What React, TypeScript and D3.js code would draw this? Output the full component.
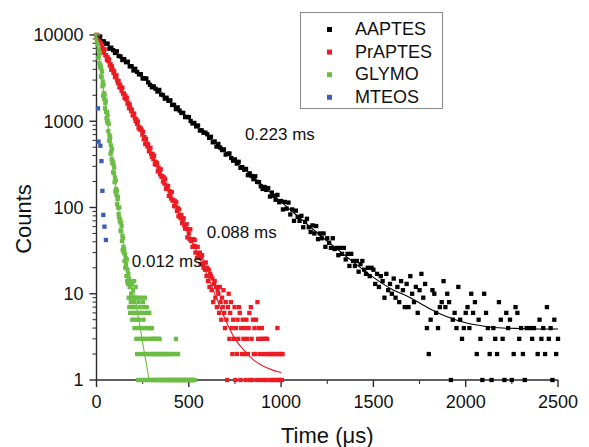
import React from 'react';
import * as d3 from 'd3';

const xTicks = [0, 500, 1000, 1500, 2000, 2500];
const xMinorTicks = [250, 750, 1250, 1750, 2250];
const yTicks = [1, 10, 100, 1000, 10000];
const xTitle = 'Time (μs)';
const yTitle = 'Counts';

const seriesNames = ['AAPTES', 'PrAPTES', 'GLYMO', 'MTEOS'];
const seriesColors = ['#000000', '#ec1c24', '#6cbd45', '#3c5bb5'];

// AAPTES: one value every 10 µs from 0
const aaptesStep = 10;
const aaptesCounts = [
  10000, 9371, 9599, 8391, 8442, 7912, 7947, 6941, 7126, 6680,
  6195, 6473, 5722, 5639, 5124, 5257, 4832, 4900, 4328, 4351,
  3875, 4056, 3729, 3495, 3512, 3130, 3148, 3129, 2822, 2643,
  2476, 2541, 2382, 2210, 2309, 2040, 2011, 1828, 1875, 1724,
  1747, 1543, 1552, 1382, 1447, 1330, 1247, 1252, 1116, 1123,
  1116, 1007, 943, 957, 871, 893, 780, 785, 736, 738,
  706, 643, 661, 570, 583, 508, 546, 496, 463, 472,
  411, 420, 423, 375, 349, 361, 323, 339, 288, 294,
  274, 280, 237, 249, 232, 213, 230, 198, 197, 176,
  164, 173, 160, 168, 134, 149, 137, 123, 140, 115,
  119, 95, 116, 97, 114, 83, 95, 70, 92, 78,
  70, 80, 59, 68, 74, 59, 52, 62, 50, 61,
  43, 50, 44, 50, 35, 44, 39, 34, 44, 33,
  34, 28, 34, 29, 34, 25, 29, 21, 29, 24,
  21, 24, 18, 22, 24, 19, 17, 20, 16, 20,
  19, 13, 17, 12, 16, 14, 9, 17, 11, 13,
  10, 15, 9, 12, 8, 14, 11, 7, 13, 7,
  16, 10, 8, 12, 6, 11, 17, 9, 13, 4,
  2, 5, 11, 10, 6, 4, 7, 8, 14, 7,
  10, 8, 1, 5, 6, 4, 12, 5, 3, 4,
  6, 7, 4, 10, 6, 8, 2, 5, 3, 1,
  10, 6, 4, 2, 1, 4, 3, 2, 8, 5,
  3, 1, 6, 4, 5, 1, 2, 7, 6, 3,
  4, 2, 1, 4, 0, 4, 3, 4, 0, 2,
  5, 3, 4, 2, 7, 3, 4, 1, 5, 2, 3,
];

// PrAPTES: one value every 4 µs from 0
const prStep = 4;
const prCounts = [
  10000, 9296, 9873, 8273, 8561,
  7962, 8211, 6866, 7327, 6817,
  6240, 6824, 5820, 5836, 5180,
  5519, 4985, 5214, 4439, 4588,
  3949, 4336, 3920, 3644, 3762,
  3244, 3357, 3407, 2991, 2779,
  2915, 2473, 2638, 2455, 2246,
  2458, 2096, 2102, 1865, 1988,
  1796, 1878, 1599, 1652, 1422,
  1561, 1412, 1312, 1355, 1168,
  1209, 1227, 1078, 1001, 1049,
  934, 991, 831, 860, 800,
  825, 791, 700, 754, 617,
  654, 543, 624, 554, 509,
  538, 448, 476, 492, 420,
  386, 418, 362, 398, 318,
  339, 312, 329, 263, 291,
  269, 242, 277, 227, 231,
  200, 224, 189, 215, 165,
  180, 164, 177, 136, 155,
  143, 127, 151, 120, 123,
  104, 119, 103, 115, 91,
  99, 79, 95, 82, 75,
  82, 66, 72, 75, 62,
  57, 57, 64, 45, 56,
  50, 43, 56, 41, 43,
  35, 43, 36, 42, 30,
  35, 26, 35, 29, 26,
  30, 22, 26, 28, 22,
  20, 23, 19, 23, 16,
  20, 14, 19, 12, 17,
  16, 11, 15, 8, 13,
  14, 9, 12, 7, 11,
  10, 6, 12, 8, 5,
  9, 7, 11, 6, 4,
  8, 5, 1, 7, 10,
  3, 6, 8, 4, 2,
  5, 3, 7, 1, 4,
  2, 5, 3, 7, 6,
  1, 4, 2, 5, 3,
  2, 4, 1, 5, 3,
  2, 4, 6, 1, 7,
  3, 1, 5, 2, 4,
  2, 5, 1, 8, 3,
  4, 2, 1, 3, 4,
  2, 3, 1, 2, 3,
  1, 3, 2, 0, 2,
  1, 2, 0, 1, 2,
  2, 1, 2, 0, 1,
  4, 2, 1, 2, 1,
  2, 1, 2,
];

// GLYMO: one value every 2 µs from 0
const glyStep = 2;
const glyCounts = [
  10000, 8514, 8735, 7767, 7921,
  5428, 6781, 5811, 4732, 6170,
  4236, 4431, 3312, 4087, 3242,
  3749, 2544, 2889, 1981, 2658,
  2120, 1805, 2034, 1411, 1617,
  1726, 1278, 1084, 1277, 971,
  1171, 1011, 769, 929, 601,
  688, 588, 658, 420, 525,
  449, 366, 477, 328, 342,
  256, 316, 251, 290, 197,
  224, 154, 205, 164, 140,
  157, 109, 125, 133, 99,
  84, 77, 100, 69, 73,
  54, 67, 53, 61, 41,
  47, 32, 44, 35, 30,
  33, 24, 29, 20, 26,
  22, 16, 25, 14, 19,
  13, 17, 9, 15, 7,
  12, 6, 14, 8, 10,
  9, 13, 5, 7, 11,
  6, 8, 14, 4, 9,
  7, 12, 5, 3, 6,
  2, 9, 4, 1, 8,
  5, 3, 7, 2, 6,
  9, 1, 4, 6, 3,
  2, 8, 5, 1, 7,
  4, 9, 3, 2, 6,
  1, 7, 4, 2, 6,
  3, 1, 4, 6, 2,
  1, 3, 4, 2, 0,
  4, 1, 3, 2, 1,
  2, 3, 0, 1, 2,
  3, 1, 2, 0, 1,
  2, 3, 1, 0, 2,
  1, 3, 0, 2, 1,
  0, 2, 1, 0, 1,
  2, 0, 1, 2, 0,
  1, 2, 0, 1, 0,
  2, 1, 0, 2, 1,
  0, 1, 2, 0, 1,
  1, 0, 2, 1, 0,
  2, 1, 0, 0, 1,
  0, 2, 1, 0, 1,
  3, 0, 1, 2, 0,
  1, 2, 0, 1, 0,
  1, 0, 0, 1, 0,
  0, 1, 0, 0, 1,
  1, 0, 0, 1, 0,
  0, 1, 0, 1, 0,
  1, 0, 0, 1, 0,
  0, 1, 0, 0, 1,
  0, 1, 0, 0, 1,
  1, 0, 0, 1, 0,
  0, 1, 0, 0, 0,
  0,
];

// MTEOS: the few visible points
const mteosTimes = [8, 11, 21, 27, 32, 37, 43, 51];
const mteosCounts = [1410, 580, 520, 345, 156, 82, 60, 42];

// Fitted curves
const aaptesFitTimes = [0, 100, 200, 300, 400, 500, 600, 700, 800, 900, 1000, 1100, 1200, 1300, 1400, 1500, 1600, 1700, 1800, 1900, 2000, 2100, 2200, 2300, 2400, 2500];
const aaptesFit = [10000, 6388, 4080, 2606, 1665, 1065, 681, 436, 280, 180, 116, 76, 50, 33.3, 22.5, 15.5, 11.3, 9.0, 6.8, 5.4, 4.6, 4.2, 4.0, 3.95, 3.9, 3.9];
const prFitTimes = [0, 50, 100, 150, 200, 250, 300, 350, 400, 450, 500, 550, 600, 650, 700, 750, 800, 850, 900, 950, 1000];
const prFit = [10000, 5880, 3450, 2030, 1190, 700, 412, 242, 142, 84, 49, 28.5, 16.5, 8.9, 4.9, 3.0, 2.2, 1.71, 1.46, 1.31, 1.22];
const glyFitTimes = [0, 40, 80, 120, 160, 180, 200, 215, 230, 250, 270, 285];
const glyFit = [10000, 2100, 440, 95, 26, 16, 11, 7.6, 4.9, 2.7, 1.55, 1.0];

const annotationTexts = ['0.223 ms', '0.088 ms', '0.012 ms'];
const annotationTimes = [804, 597, 191];
const annotationCounts = [604, 44.8, 20.4];

const FONT = '"Liberation Sans", Arial, Helvetica, sans-serif';

export default function App() {
  const W = 589;
  const H = 447;
  const x = d3.scaleLinear().domain([0, 2500]).range([96.5, 558]);
  const y = d3.scaleLog().domain([1, 10000]).range([380, 35]);

  const mk = (step: number, counts: number[]) =>
    counts.map((c, i) => ({ t: i * step, c })).filter((d) => d.c >= 1);

  const dataSets = [
    mk(aaptesStep, aaptesCounts),
    mk(prStep, prCounts),
    mk(glyStep, glyCounts),
    mteosTimes.map((t, i) => ({ t, c: mteosCounts[i] })),
  ];

  const fits = [
    { times: aaptesFitTimes, vals: aaptesFit, color: seriesColors[0] },
    { times: prFitTimes, vals: prFit, color: seriesColors[1] },
    { times: glyFitTimes, vals: glyFit, color: seriesColors[2] },
  ];

  const line = d3
    .line<[number, number]>()
    .x((d) => x(d[0]))
    .y((d) => y(d[1]))
    .curve(d3.curveMonotoneX);

  const yMinor = y.ticks().filter((v) => !yTicks.includes(v));
  const ms = 4.3;
  const axisColor = '#2a2a2a';
  const [x0, x1] = x.range();
  const [yb, yt] = y.range();

  return (
    <svg
      width={W}
      height={H}
      viewBox={`0 0 ${W} ${H}`}
      style={{ position: 'absolute', left: 0, top: 0, background: '#fff' }}
      fontFamily={FONT}
    >
      <rect x={0} y={0} width={W} height={H} fill="#fff" />

      {/* axes */}
      <g stroke={axisColor} strokeWidth={1.4}>
        <line x1={x0} x2={x0} y1={yb} y2={yt} />
        <line x1={x0} x2={x1} y1={yb} y2={yb} />
        {yTicks.map((v) => (
          <line key={'ym' + v} x1={x0 - 7} x2={x0} y1={y(v)} y2={y(v)} />
        ))}
        {yMinor.map((v) => (
          <line key={'yn' + v} x1={x0 - 4} x2={x0} y1={y(v)} y2={y(v)} strokeWidth={1} />
        ))}
        {xTicks.map((v) => (
          <line key={'xm' + v} x1={x(v)} x2={x(v)} y1={yb} y2={yb + 7} />
        ))}
        {xMinorTicks.map((v) => (
          <line key={'xn' + v} x1={x(v)} x2={x(v)} y1={yb} y2={yb + 4} strokeWidth={1} />
        ))}
      </g>
      <g fontSize={18} fill="#111">
        {yTicks.map((v) => (
          <text key={'yl' + v} x={x0 - 13} y={y(v)} dy="0.36em" textAnchor="end">
            {String(v)}
          </text>
        ))}
        {xTicks.map((v) => (
          <text key={'xl' + v} x={x(v)} y={yb + 28} textAnchor="middle">
            {String(v)}
          </text>
        ))}
      </g>
      <text x={(x0 + x1) / 2} y={443} fontSize={22} textAnchor="middle" fill="#111">
        {xTitle}
      </text>
      <text
        transform={`translate(31, 219) rotate(-90)`}
        fontSize={22}
        textAnchor="middle"
        fill="#111"
      >
        {yTitle}
      </text>

      {/* data points */}
      {dataSets.map((pts, si) => (
        <g key={'s' + si} fill={seriesColors[si]}>
          {pts.map((d, i) => (
            <rect key={i} x={x(d.t) - ms / 2} y={y(d.c) - ms / 2} width={ms} height={ms} />
          ))}
        </g>
      ))}

      {/* fits */}
      {fits.map((f, i) => (
        <path
          key={'f' + i}
          d={line(f.times.map((t, k) => [t, f.vals[k]] as [number, number])) || ''}
          fill="none"
          stroke={f.color}
          strokeWidth={1.1}
        />
      ))}

      {/* annotations */}
      {annotationTexts.map((s, i) => (
        <text key={'a' + i} x={x(annotationTimes[i])} y={y(annotationCounts[i])} fontSize={17} fill="#111">
          {s}
        </text>
      ))}

      {/* legend */}
      <rect x={300.5} y={12.5} width={142} height={96} fill="#fff" stroke="#888" strokeWidth={1} />
      {seriesNames.map((n, i) => (
        <g key={'l' + i}>
          <rect x={327} y={27 + i * 22.6} width={5} height={5} fill={seriesColors[i]} />
          <text x={355} y={35 + i * 22.6} fontSize={18} fill="#111">
            {n}
          </text>
        </g>
      ))}
    </svg>
  );
}
